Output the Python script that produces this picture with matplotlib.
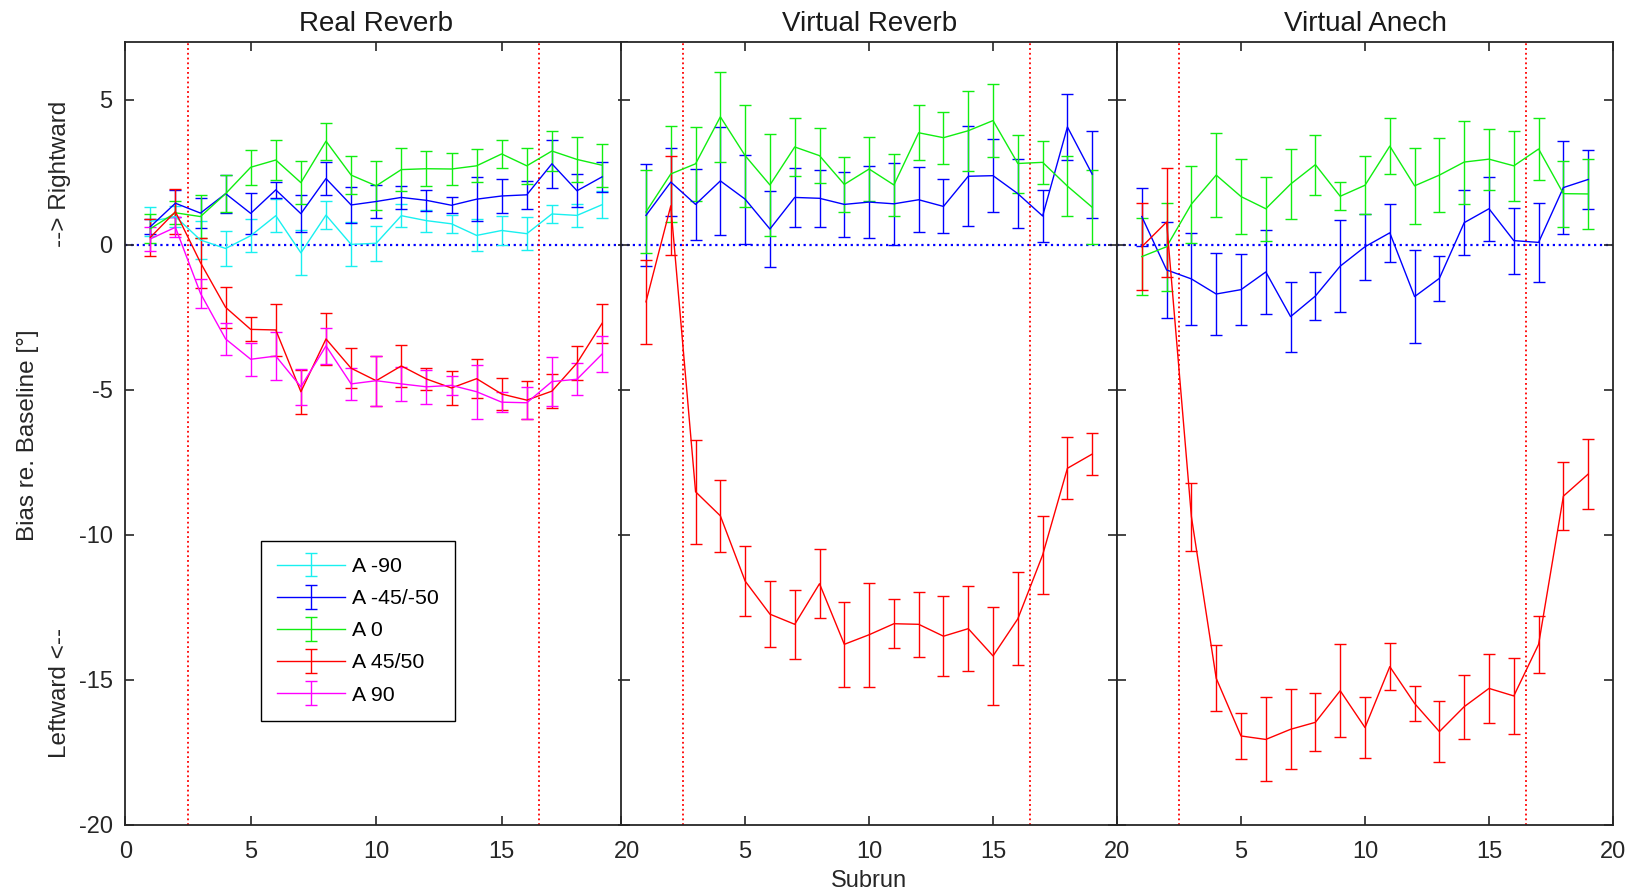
import matplotlib
matplotlib.use("Agg")
import matplotlib.pyplot as plt
import numpy as np
from matplotlib.legend_handler import HandlerErrorbar

plt.rcParams["font.family"] = ["Liberation Sans", "DejaVu Sans"]
plt.rcParams["axes.unicode_minus"] = False

subrun = np.arange(1, 20)
titles = ["Real Reverb", "Virtual Reverb", "Virtual Anech"]
labels = ["A -90", "A -45/-50", "A 0", "A 45/50", "A 90"]
colors = ["#19f0f0", "#0000ff", "#10ee10", "#ff0000", "#ff00ff"]
onset, offset = 2.5, 16.5

# Real Reverb
rr_m90 = [0.8, 0.97, 0.16, -0.13, 0.31, 1.0, -0.28, 1.02, 0.01, 0.05, 1.0, 0.83, 0.72, 0.32, 0.49, 0.38, 1.06, 1.01, 1.38]
rr_m90_err = [0.5, 0.36, 0.66, 0.59, 0.56, 0.57, 0.78, 0.47, 0.76, 0.6, 0.4, 0.38, 0.32, 0.55, 0.5, 0.56, 0.32, 0.4, 0.46]
rr_m45 = [0.62, 1.43, 1.09, 1.76, 1.08, 1.89, 1.07, 2.28, 1.37, 1.49, 1.63, 1.53, 1.36, 1.57, 1.68, 1.72, 2.79, 1.86, 2.34]
rr_m45_err = [0.25, 0.46, 0.52, 0.65, 0.72, 0.28, 0.64, 0.57, 0.62, 0.58, 0.41, 0.36, 0.27, 0.76, 0.57, 0.49, 0.82, 0.57, 0.51]
rr_0 = [0.55, 1.1, 0.97, 1.76, 2.67, 2.92, 2.14, 3.57, 2.4, 2.03, 2.59, 2.62, 2.61, 2.72, 3.13, 2.72, 3.23, 2.94, 2.74]
rr_0_err = [0.5, 0.4, 0.75, 0.64, 0.61, 0.7, 0.74, 0.64, 0.66, 0.84, 0.75, 0.61, 0.55, 0.57, 0.47, 0.63, 0.7, 0.79, 0.74]
rr_45 = [0.25, 1.14, -0.62, -2.16, -2.92, -2.94, -5.07, -3.25, -4.26, -4.69, -4.18, -4.63, -4.94, -4.62, -5.15, -5.36, -5.05, -4.08, -2.71]
rr_45_err = [0.64, 0.77, 0.86, 0.7, 0.41, 0.9, 0.76, 0.91, 0.69, 0.86, 0.71, 0.38, 0.58, 0.67, 0.55, 0.66, 0.58, 0.58, 0.68]
rr_90 = [0.2, 0.6, -1.68, -3.25, -3.95, -3.84, -4.9, -3.49, -4.8, -4.69, -4.8, -4.9, -4.85, -5.07, -5.43, -5.45, -4.72, -4.64, -3.77]
rr_90_err = [0.4, 0.35, 0.51, 0.54, 0.57, 0.82, 0.62, 0.61, 0.56, 0.86, 0.6, 0.59, 0.33, 0.93, 0.35, 0.55, 0.85, 0.55, 0.61]

# Virtual Reverb
vr_m45 = [1.01, 2.16, 1.39, 2.2, 1.57, 0.54, 1.63, 1.6, 1.39, 1.47, 1.41, 1.55, 1.32, 2.36, 2.38, 1.76, 0.99, 4.06, 2.43]
vr_m45_err = [1.76, 1.17, 1.22, 1.87, 1.53, 1.32, 1.03, 0.99, 1.11, 1.25, 1.42, 1.12, 0.93, 1.73, 1.25, 1.2, 0.9, 1.15, 1.5]
vr_0 = [1.13, 2.44, 2.79, 4.41, 3.07, 2.06, 3.37, 3.07, 2.08, 2.61, 2.06, 3.86, 3.69, 3.93, 4.28, 2.8, 2.84, 2.02, 1.29]
vr_0_err = [1.43, 1.67, 1.28, 1.56, 1.76, 1.75, 1.0, 0.94, 0.96, 1.12, 1.07, 0.95, 0.9, 1.38, 1.27, 1.0, 0.74, 1.04, 1.27]
vr_45 = [-1.97, 1.34, -8.52, -9.35, -11.6, -12.74, -13.09, -11.69, -13.78, -13.45, -13.07, -13.09, -13.5, -13.24, -14.18, -12.9, -10.7, -7.71, -7.22]
vr_45_err = [1.45, 1.71, 1.79, 1.25, 1.2, 1.13, 1.19, 1.18, 1.47, 1.8, 0.84, 1.11, 1.37, 1.46, 1.7, 1.6, 1.36, 1.07, 0.72]

# Virtual Anech
va_m45 = [0.97, -0.87, -1.18, -1.7, -1.55, -0.94, -2.48, -1.77, -0.74, -0.07, 0.41, -1.79, -1.16, 0.76, 1.24, 0.14, 0.08, 1.97, 2.25]
va_m45_err = [1.0, 1.67, 1.6, 1.4, 1.22, 1.44, 1.21, 0.82, 1.59, 1.13, 1.0, 1.61, 0.77, 1.12, 1.1, 1.14, 1.37, 1.6, 1.03]
va_0 = [-0.41, -0.07, 1.4, 2.4, 1.66, 1.24, 2.09, 2.76, 1.67, 2.05, 3.4, 2.03, 2.4, 2.85, 2.95, 2.72, 3.3, 1.76, 1.75]
va_0_err = [1.33, 1.52, 1.33, 1.45, 1.3, 1.1, 1.2, 1.03, 0.48, 1.0, 0.97, 1.3, 1.28, 1.43, 1.05, 1.21, 1.08, 1.14, 1.21]
va_45 = [-0.07, 0.78, -9.38, -14.95, -16.94, -17.06, -16.71, -16.47, -15.38, -16.65, -14.55, -15.82, -16.79, -15.93, -15.3, -15.56, -13.78, -8.67, -7.91]
va_45_err = [1.5, 1.88, 1.18, 1.13, 0.8, 1.45, 1.38, 1.0, 1.6, 1.05, 0.82, 0.61, 1.05, 1.1, 1.19, 1.3, 0.98, 1.17, 1.21]

panels = [
    {0: (rr_m90, rr_m90_err), 1: (rr_m45, rr_m45_err), 2: (rr_0, rr_0_err),
     3: (rr_45, rr_45_err), 4: (rr_90, rr_90_err)},
    {1: (vr_m45, vr_m45_err), 2: (vr_0, vr_0_err), 3: (vr_45, vr_45_err)},
    {1: (va_m45, va_m45_err), 2: (va_0, va_0_err), 3: (va_45, va_45_err)},
]

W, H = 1645, 891
fig = plt.figure(figsize=(W / 100, H / 100), dpi=100)
# axes boxes in pixels: left, right (panel 1 runs under panel 2 by a few px)
boxes = [(125.2, 627.2), (621.2, 1117.0), (1117.0, 1613.0)]
top_px, bot_px = 41.7, 824.7

axes = []
for i, (l, r) in enumerate(boxes):
    ax = fig.add_axes([l / W, 1 - bot_px / H, (r - l) / W, (bot_px - top_px) / H])
    ax.set_zorder(i)
    axes.append(ax)

for i, ax in enumerate(axes):
    for k, (m, e) in panels[i].items():
        ax.errorbar(subrun, m, yerr=e, color=colors[k], lw=1.0, elinewidth=1.0,
                    capsize=4.6, capthick=1.0, label=labels[k])
    ax.axhline(0, color="#0000ff", ls=":", lw=1.6, zorder=0)
    for xv in (onset, offset):
        ax.axvline(xv, color="#ff0000", ls=":", lw=1.3, zorder=0)
    ax.set_xlim(0, 20)
    ax.set_ylim(-20, 7)
    ax.set_xticks([0, 5, 10, 15, 20])
    ax.set_yticks([-20, -15, -10, -5, 0, 5])
    ax.tick_params(direction="in", length=6.5, width=1.2, top=True, right=True,
                   labelsize=17, colors="#262626", pad=12)
    ax.tick_params(axis="y", pad=9)
    for s in ax.spines.values():
        s.set_linewidth(1.3)
        s.set_color("#262626")
    ax.set_title(titles[i], fontsize=20, pad=8, color="#1a1a1a")
    if i > 0:
        ax.set_yticklabels([])
        ax.set_xticklabels(["", "5", "10", "15", "20"])

axes[1].set_xlabel("Subrun", fontsize=17, color="#262626", labelpad=5)

leg = axes[0].legend(loc="upper left", bbox_to_anchor=(0.2705, 0.3623), borderaxespad=0,
                     fontsize=15.3, fancybox=False, edgecolor="black", framealpha=1,
                     handlelength=3.2, labelspacing=0.62, handletextpad=0.35,
                     borderpad=0.75,
                     handler_map={type(axes[0].containers[0]): HandlerErrorbar(yerr_size=0.56)})
leg.get_frame().set_linewidth(1.0)

fig.text(28 / W, 1 - 435 / H, "Bias re. Baseline [°]", rotation=90, fontsize=17.5,
         ha="center", va="center", color="#262626")
fig.text(60 / W, 1 - 174 / H, "--> Rightward", rotation=90, fontsize=17.5,
         ha="center", va="center", color="#262626")
fig.text(60 / W, 1 - 693 / H, "Leftward <--", rotation=90, fontsize=17.5,
         ha="center", va="center", color="#262626")

fig.savefig("out.png", dpi=100)
